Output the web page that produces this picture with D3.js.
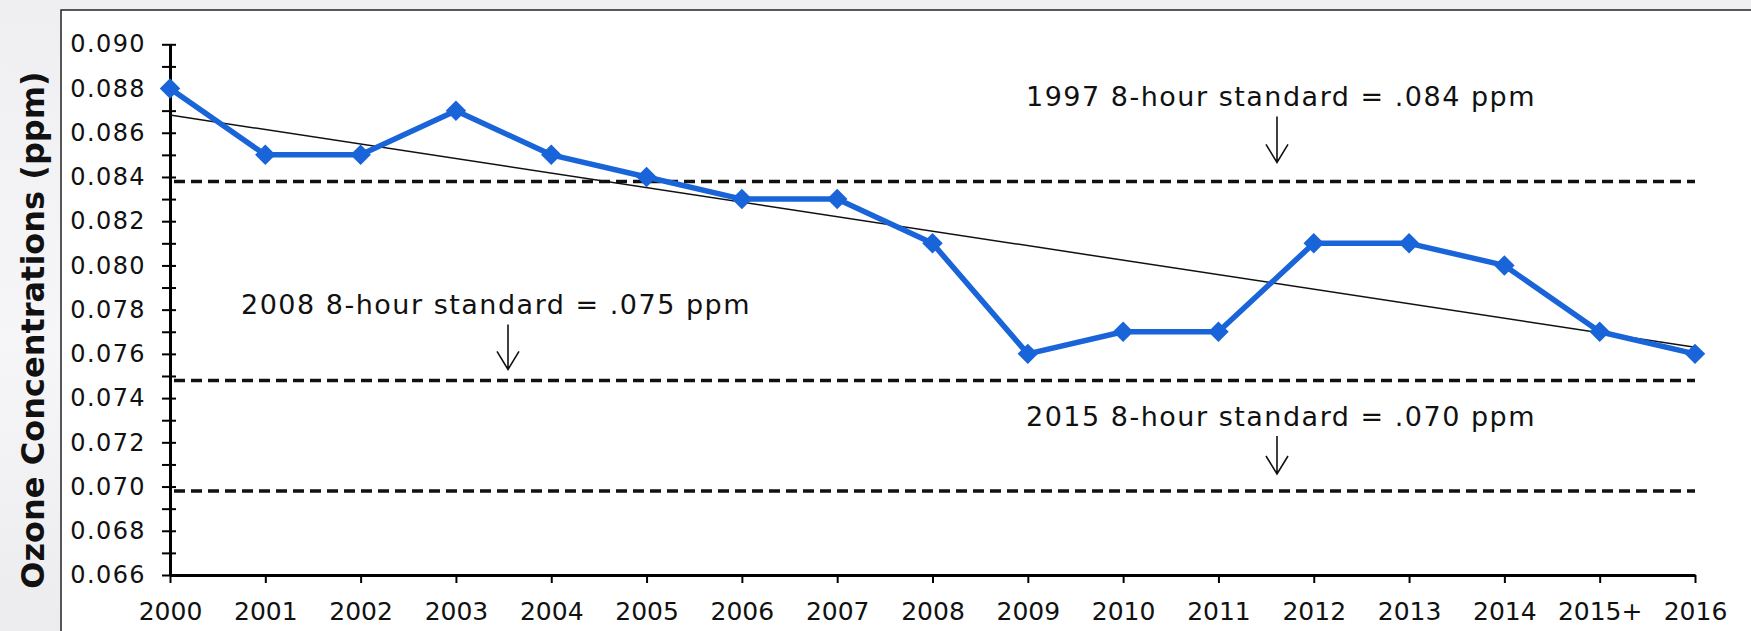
<!DOCTYPE html>
<html>
<head>
<meta charset="utf-8">
<script src="https://cdn.jsdelivr.net/npm/d3@7"></script>
<style>
	html, body { margin: 0; padding: 0; background: #f1f1f3; }
	svg { display: block; font-family: "DejaVu Sans", Verdana, sans-serif; }
</style>
</head>
<body>
<svg id="chart"></svg>
<script>
/*
	Data
*/
const years = ['2000','2001','2002','2003','2004','2005','2006','2007','2008',
	'2009','2010','2011','2012','2013','2014','2015+','2016']
const ozone = [0.088, 0.085, 0.085, 0.087, 0.085, 0.084, 0.083, 0.083, 0.081,
	0.076, 0.077, 0.077, 0.081, 0.081, 0.080, 0.077, 0.076]
const trendEnds = [0.0868, 0.0763] //fitted trend at first and last year
const standardLevels = [0.0838, 0.0748, 0.0698]
const standardLabels = ['1997 8-hour standard = .084 ppm', '2008 8-hour standard = .075 ppm', '2015 8-hour standard = .070 ppm']
const yTicks = d3.range(0.066, 0.0905, 0.002)
const yMinorTicks = d3.range(0.066, 0.0905, 0.001)

/*
	Drawing constants
*/
const [width, height] = [1751, 631]
const panel = {left: 61, top: 10}
const plot = {left: 170, right: 1695, top: 44.3, bottom: 575}
const blue = '#1964d8'

const svg = d3.select('#chart').attr('width', width).attr('height', height)

//soft grey backdrop with a lighter sweep, then the white chart panel
const defs = svg.append('defs')
const grad = defs.append('linearGradient').attr('id', 'bg')
	.attr('x1', 0).attr('y1', 1).attr('x2', 0.08).attr('y2', 0)
grad.append('stop').attr('offset', '0%').attr('stop-color', '#ececef')
grad.append('stop').attr('offset', '45%').attr('stop-color', '#f6f6f8')
grad.append('stop').attr('offset', '100%').attr('stop-color', '#efeff2')
svg.append('rect').attr('width', width).attr('height', height).attr('fill', 'url(#bg)')
svg.append('rect')
	.attr('x', panel.left).attr('y', panel.top)
	.attr('width', width - panel.left).attr('height', height - panel.top)
	.attr('fill', '#fff')
svg.append('path')
	.attr('d', `M${panel.left},${height}V${panel.top}H${width}`)
	.attr('fill', 'none').attr('stroke', '#222').attr('stroke-width', 1.5)

/*
	Scales
*/
const x = d3.scalePoint().domain(years).range([plot.left, plot.right])
const y = d3.scaleLinear().domain([0.066, 0.090]).range([plot.bottom, plot.top])

//minor ticks first (no labels), then the labelled axis on top
svg.append('g')
	.attr('transform', `translate(${plot.left},0)`)
	.call(d3.axisLeft(y).tickValues(yMinorTicks).tickSize(8).tickFormat(''))
	.call(g => g.select('.domain').remove())
	.call(g => g.selectAll('line').attr('x2', 6).attr('x1', -8).attr('stroke-width', 2))

//d3 puts font attributes on the axis group; drop them so the page font applies
const yAxis = svg.append('g')
	.attr('transform', `translate(${plot.left},0)`)
	.call(d3.axisLeft(y).tickValues(yTicks).tickSize(0).tickPadding(24).tickFormat(d3.format('.3f')))
	.attr('font-family', null).attr('font-size', null)
yAxis.select('.domain').attr('stroke-width', 3)
yAxis.selectAll('text').attr('font-size', 24).attr('letter-spacing', 1.4).attr('fill', '#111')

const xAxis = svg.append('g')
	.attr('transform', `translate(0,${plot.bottom})`)
	.call(d3.axisBottom(x).tickSizeInner(8).tickSizeOuter(0).tickPadding(19))
	.attr('font-family', null).attr('font-size', null)
xAxis.select('.domain').attr('stroke-width', 3)
xAxis.selectAll('line').attr('stroke-width', 2)
xAxis.selectAll('text').attr('font-size', 25).attr('fill', '#111')

svg.append('text')
	.attr('transform', `translate(44,330) rotate(-90)`)
	.attr('text-anchor', 'middle')
	.attr('font-size', 32).attr('font-weight', 'bold').attr('fill', '#111')
	.text('Ozone Concentrations (ppm)')

/*
	Standard lines with their labels and arrows
*/
svg.append('g').selectAll('line').data(standardLevels).join('line')
	.attr('x1', plot.left + 4).attr('x2', plot.right)
	.attr('y1', d => y(d)).attr('y2', d => y(d))
	.attr('stroke', '#111').attr('stroke-width', 3.5).attr('stroke-dasharray', '11,6')

//label placement: left edge of text, arrow x, text baseline / arrow top / arrow tip above the line
const notes = [
	{tx: 1026, ax: 1277, base: 75, top: 65, tip: 19},
	{tx: 241, ax: 508, base: 66, top: 56, tip: 11},
	{tx: 1026, ax: 1277, base: 65, top: 55, tip: 17}
]
const noteG = svg.append('g').selectAll('g').data(standardLevels).join('g')
noteG.append('text')
	.attr('x', (d, i) => notes[i].tx).attr('y', (d, i) => y(d) - notes[i].base)
	.attr('font-size', 27).attr('letter-spacing', 1.5).attr('fill', '#111')
	.text((d, i) => standardLabels[i])
noteG.append('path')
	.attr('d', (d, i) => {
		const n = notes[i], top = y(d) - n.top, tip = y(d) - n.tip
		return `M${n.ax},${top}V${tip}M${n.ax - 11},${tip - 18}L${n.ax},${tip}L${n.ax + 11},${tip - 18}`
	})
	.attr('fill', 'none').attr('stroke', '#111').attr('stroke-width', 1.6)

/*
	Trend line, then the data series with diamond markers
*/
svg.append('line')
	.attr('x1', x(years[0])).attr('y1', y(trendEnds[0]))
	.attr('x2', x(years[years.length - 1])).attr('y2', y(trendEnds[1]))
	.attr('stroke', '#111').attr('stroke-width', 1.5)

const points = years.map((yr, i) => ({yr, v: ozone[i]}))
svg.append('path')
	.datum(points)
	.attr('d', d3.line().x(d => x(d.yr)).y(d => y(d.v)))
	.attr('fill', 'none').attr('stroke', blue).attr('stroke-width', 5.5).attr('stroke-linejoin', 'round')

svg.append('g').selectAll('path').data(points).join('path')
	.attr('d', d3.symbol(d3.symbolSquare, 210))
	.attr('transform', d => `translate(${x(d.yr)},${y(d.v)}) rotate(45)`)
	.attr('fill', blue)
</script>
</body>
</html>
